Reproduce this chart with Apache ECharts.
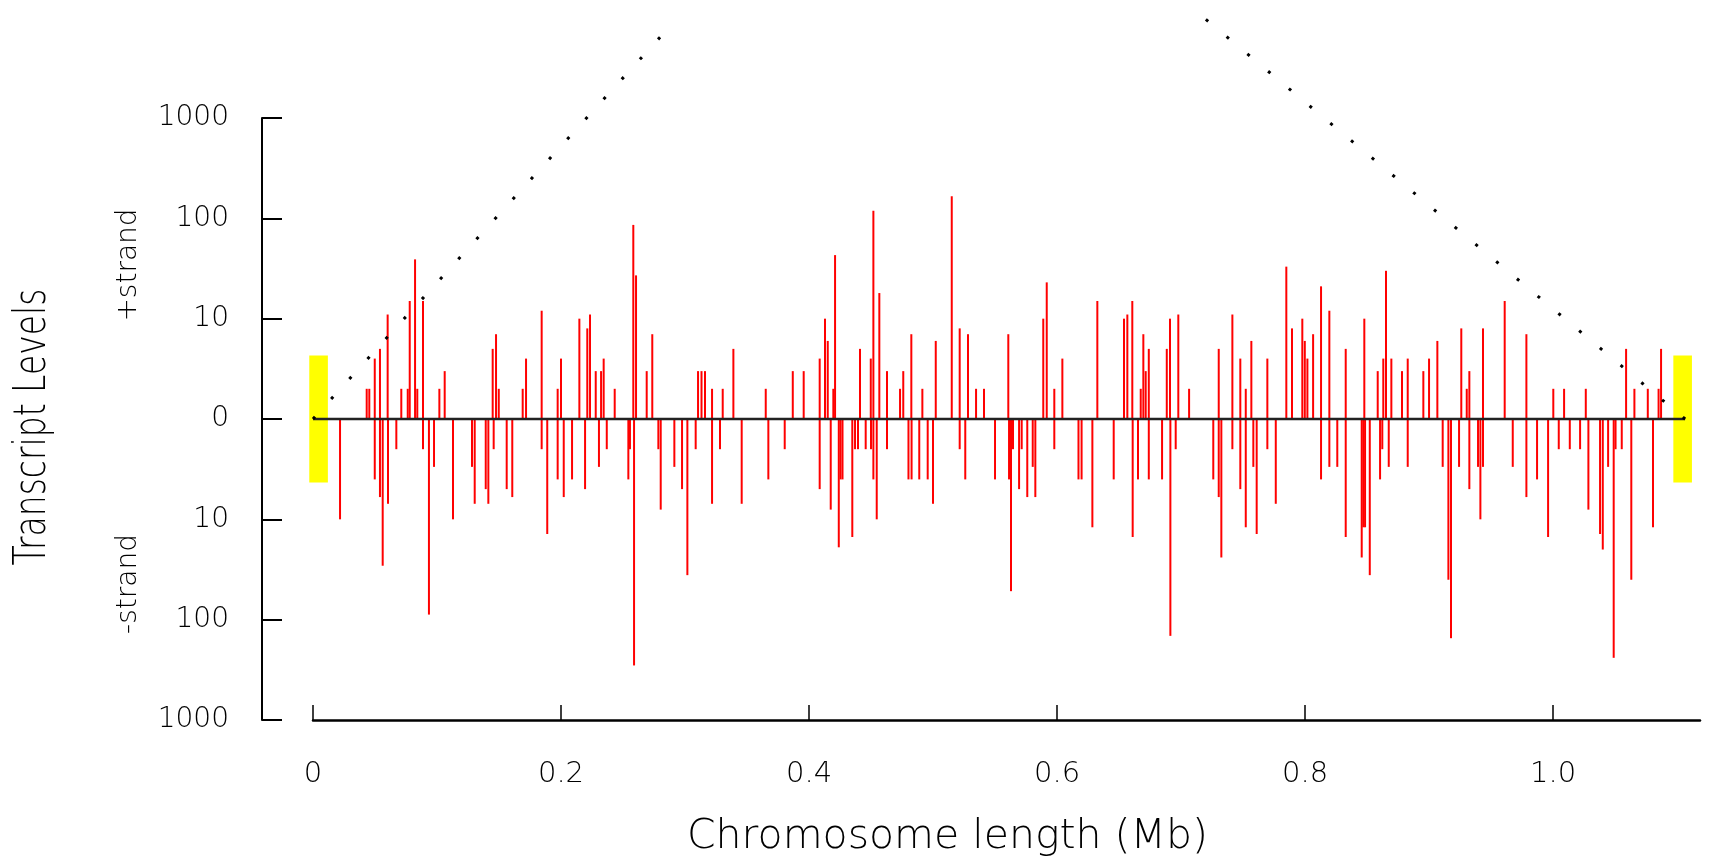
<!DOCTYPE html>
<html><head><meta charset="utf-8">
<script src="https://cdn.jsdelivr.net/npm/echarts@6/dist/echarts.min.js"></script>
<style>html,body{margin:0;padding:0;background:#fff}#c{width:1711px;height:859px}</style>
</head><body><div id="c"></div>
<script>
// ---- data ----
const xTicks = [0, 0.2, 0.4, 0.6, 0.8, 1.0];
const yTickLabels = ['1000', '100', '10', '0', '10', '100', '1000'];

// + strand transcripts: position (Mb) and level
const plusPos = [0.0433,0.0454,0.0498,0.0540,0.0602,0.0712,0.0764,0.0780,0.0823,0.0841,0.0887,0.1019,0.1062,
  0.1449,0.1476,0.1498,0.1691,0.1718,0.1844,0.1973,0.2000,0.2148,0.2212,0.2234,0.2280,0.2323,0.2344,0.2433,
  0.2583,0.2605,0.2691,0.2736,0.3105,0.3133,0.3161,0.3218,0.3304,0.3390,0.3651,0.3869,0.3957,0.4086,0.4129,
  0.4151,0.4196,0.4210,0.4411,0.4498,0.4519,0.4567,0.4629,0.4734,0.4760,0.4825,0.4914,0.5022,0.5151,0.5215,
  0.5282,0.5347,0.5411,0.5607,0.5889,0.5917,0.5978,0.6043,0.6325,0.6540,0.6567,0.6607,0.6675,0.6696,0.6715,
  0.6740,0.6885,0.6911,0.6978,0.7065,0.7304,0.7414,0.7478,0.7522,0.7567,0.7696,0.7849,0.7895,0.7978,0.7998,
  0.8019,0.8065,0.8129,0.8196,0.8328,0.8478,0.8586,0.8631,0.8653,0.8696,0.8782,0.8828,0.8954,0.9000,0.9067,
  0.9260,0.9304,0.9325,0.9435,0.9610,0.9785,1.0002,1.0089,1.0264,1.0589,1.0656,1.0764,1.0851,1.0871];
const plusLevel = [2,2,4,5,11,2,2,15,39,2,15,2,3,
  5,7,2,2,4,12,2,4,10,8,11,3,3,4,2,
  86,27,3,7,3,3,3,2,2,5,2,3,3,4,10,
  6,2,43,5,4,119,18,3,2,3,7,2,6,166,8,
  7,2,2,7,10,23,2,4,15,10,11,15,2,7,3,
  5,5,10,11,2,5,11,4,2,6,4,33,8,10,6,
  4,7,21,12,5,10,3,4,30,4,3,4,3,4,6,
  8,2,3,8,15,7,2,2,2,5,2,2,2,5];

// - strand transcripts: position (Mb) and level
const minusPos = [0.0218,0.0498,0.0540,0.0562,0.0605,0.0672,0.0887,0.0935,0.0976,0.1129,0.1282,0.1304,0.1393,
  0.1414,0.1457,0.1562,0.1607,0.1844,0.1889,0.1973,0.2022,0.2089,0.2194,0.2306,0.2369,0.2543,0.2556,0.2589,
  0.2785,0.2804,0.2914,0.2976,0.3019,0.3086,0.3218,0.3282,0.3457,0.3672,0.3804,0.4086,0.4175,0.4240,0.4254,
  0.4270,0.4349,0.4371,0.4395,0.4457,0.4500,0.4519,0.4546,0.4629,0.4802,0.4827,0.4889,0.4957,0.5000,0.5215,
  0.5260,0.5500,0.5613,0.5629,0.5645,0.5694,0.5715,0.5760,0.5804,0.5825,0.5978,0.6173,0.6198,0.6285,0.6457,
  0.6610,0.6653,0.6740,0.6847,0.6914,0.6957,0.7260,0.7304,0.7325,0.7414,0.7478,0.7522,0.7583,0.7610,0.7696,
  0.7764,0.8129,0.8196,0.8260,0.8328,0.8457,0.8470,0.8484,0.8522,0.8605,0.8623,0.8675,0.8828,0.9110,0.9156,
  0.9177,0.9242,0.9325,0.9395,0.9414,0.9435,0.9675,0.9785,0.9871,0.9960,1.0046,1.0135,1.0218,1.0285,1.0379,
  1.0401,1.0444,1.0489,1.0504,1.0554,1.0631,1.0806];
const minusLevel = [10,4,6,29,7,2,2,89,3,10,3,7,5,
  7,2,5,6,2,14,4,6,4,5,3,2,4,2,286,
  2,8,3,5,36,2,7,2,7,4,2,5,8,19,4,
  4,15,2,2,2,2,4,10,2,4,4,4,4,7,2,
  4,4,4,52,2,5,2,6,3,6,2,4,4,12,4,
  15,4,4,4,145,2,4,6,24,2,5,12,3,14,2,
  7,4,3,3,15,24,12,12,36,4,2,3,3,3,40,
  153,3,5,3,10,3,3,6,4,15,2,2,2,8,14,
  20,3,240,2,2,40,12];

// telomeres (Mb) and the level their boxes reach on both strands
const telomereStart = [-0.003, 1.097];
const telomereEnd = [0.012, 1.112];
const telomereLevel = 4.3;
// chromosome extent (Mb)
const chromStart = 0;
const chromEnd = 1.1065;
// dotted guide lines: [position (Mb), log10 level]
const leftGuide = [[0, 0], [0.2927, 3.98]];
const rightGuide = [[1.1065, 0], [0.7145, 4.04]];

// ---- chart ----
const font = 'DejaVu Sans';
const bars = [];
plusPos.forEach((p, i) => bars.push([p, Math.log10(plusLevel[i])]));
minusPos.forEach((p, i) => bars.push([p, -Math.log10(minusLevel[i])]));
const telLog = Math.log10(telomereLevel);
const telData = telomereStart.map((s, i) => [s, telomereEnd[i], telLog]);

const chart = echarts.init(document.getElementById('c'));
chart.setOption({
  animation: false,
  backgroundColor: '#ffffff',
  grid: {left: 313, right: 11, top: 118, bottom: 139, containLabel: false, outerBoundsMode: 'none'},
  xAxis: {
    type: 'value', min: 0, max: 1.1185,
    axisLine: {onZero: false, lineStyle: {color: '#000', width: 2.5}},
    axisTick: {inside: true, length: 15, customValues: xTicks, lineStyle: {color: '#000', width: 1.5}},
    axisLabel: {customValues: xTicks, margin: 40, fontSize: 29, fontWeight: 200, fontFamily: font, color: '#000',
      formatter: v => v === 0 ? '0' : v.toFixed(1)},
    splitLine: {show: false},
    name: 'Chromosome length (Mb)', nameLocation: 'middle', nameGap: 97,
    nameTextStyle: {fontSize: 41, fontWeight: 200, fontFamily: font, color: '#000', padding: [0, 118, 0, 0]}
  },
  yAxis: {
    type: 'value', min: -3, max: 3, interval: 1, offset: 51,
    axisLine: {show: true, onZero: false, lineStyle: {color: '#000', width: 2}},
    axisTick: {show: true, inside: true, length: 20, lineStyle: {color: '#000', width: 2}},
    axisLabel: {margin: 33, fontSize: 28, fontWeight: 200, fontFamily: font, color: '#000',
      formatter: v => yTickLabels[Math.round(v) + 3]},
    splitLine: {show: false}
  },
  graphic: [
    {type: 'text', x: 34, y: 427, rotation: Math.PI / 2, scaleX: 0.75,
      style: {text: 'Transcript Levels', fontSize: 44, fontWeight: 200, fontFamily: font, fill: '#000', align: 'center', verticalAlign: 'middle'}},
    {type: 'text', x: 129, y: 265, rotation: Math.PI / 2,
      style: {text: '+strand', fontSize: 28, fontWeight: 200, fontFamily: font, fill: '#000', align: 'center', verticalAlign: 'middle'}},
    {type: 'text', x: 129, y: 584, rotation: Math.PI / 2,
      style: {text: '-strand', fontSize: 28, fontWeight: 200, fontFamily: font, fill: '#000', align: 'center', verticalAlign: 'middle'}}
  ],
  series: [
    {
      type: 'custom', z: 1, clip: false, data: telData,
      encode: {x: [0, 1], y: 2},
      renderItem: (params, api) => {
        const a = api.coord([api.value(0), api.value(2)]);
        const b = api.coord([api.value(1), -api.value(2)]);
        return {type: 'rect', shape: {x: a[0], y: a[1], width: b[0] - a[0], height: b[1] - a[1]},
          style: {fill: '#ffff00'}};
      }
    },
    {type: 'bar', z: 2, data: bars, barWidth: 2, itemStyle: {color: '#ff0000'}},
    {type: 'line', z: 3, data: [[chromStart, 0], [chromEnd, 0]], symbol: 'none',
      lineStyle: {color: '#222', width: 2.5}},
    {type: 'line', z: 4, clip: false, data: leftGuide, symbol: 'none',
      lineStyle: {color: '#000', width: 3, type: [3, 24]}},
    {type: 'line', z: 4, clip: false, data: rightGuide, symbol: 'none',
      lineStyle: {color: '#000', width: 3, type: [3, 24]}}
  ]
});
</script></body></html>
